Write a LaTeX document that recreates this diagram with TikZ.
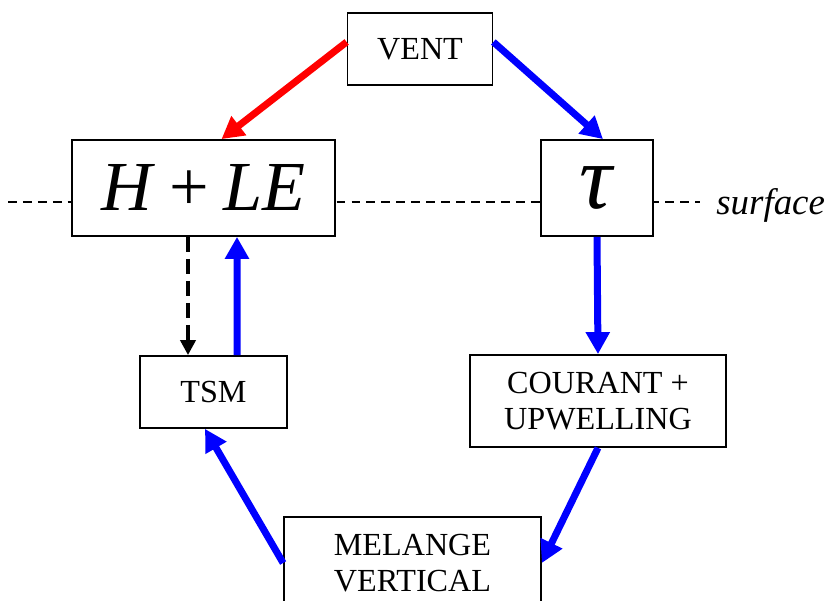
\documentclass[tikz,border=0pt]{standalone}
\usepackage{fontspec}
\setmainfont{Liberation Serif}
\usetikzlibrary{arrows.meta,calc,positioning}

\begin{document}
\begin{tikzpicture}[
    box/.style={draw,line width=1pt,fill=white,inner sep=0,align=center,font=\fontsize{18.3}{20.5}\selectfont},
    flow/.style={line width=0.14cm,-{Triangle[length=0.44cm,width=0.46cm]}},
  ]
  \useasboundingbox (0,0) rectangle (16.56,12.02);
  % surface line
  \draw[dash pattern=on 5pt off 3.5pt,line width=1pt] (0.16,7.98) -- (14.0,7.98);
  \node[anchor=base west,inner sep=0,font=\itshape\fontsize{21}{24}\selectfont] (surf) at (14.32,7.72) {surface};
  % the boxes
  \node[box,minimum width=2.9cm,minimum height=1.44cm] (vent) at (8.40,11.04) {VENT};
  \node[box,minimum width=5.26cm,minimum height=1.92cm,font=\fontsize{40}{44}\selectfont] (hle) at (4.07,8.26) {\textit{H}\hspace{.2em}+\hspace{.2em}\textit{LE}};
  \node[box,minimum width=2.24cm,minimum height=1.92cm,font=\fontsize{52}{56}\selectfont] (tau) at (11.94,8.26) {\textit{τ}};
  \node[box,minimum width=2.94cm,minimum height=1.44cm] (tsm) at (4.27,4.18) {TSM};
  \node[box,minimum width=5.12cm,minimum height=1.84cm] (cour) at (11.96,4.0) {COURANT +\\UPWELLING};
  \node[box,minimum width=5.14cm,minimum height=1.84cm] (mel) at (8.25,0.76) {MELANGE\\VERTICAL};
  % arrows
  \draw[flow,red] ([yshift=0.14cm]vent.west) -- ([xshift=0.36cm]hle.north);
  \draw[flow,blue] ([yshift=0.14cm]vent.east) -- ([xshift=0.12cm]tau.north);
  \draw[flow,blue] (tau.south) -- (cour.north);
  \draw[flow,blue] (cour.south) -- (mel.east);
  \draw[flow,blue] (mel.west) -- ([xshift=-0.17cm]tsm.south);
  \draw[flow,blue] ([xshift=0.47cm]tsm.north) -- ([xshift=0.67cm]hle.south);
  \draw[line width=2.3pt,dash pattern=on 0.3cm off 0.14cm,-{Triangle[length=0.3cm,width=0.3cm]}] ([xshift=-0.31cm]hle.south) -- ([xshift=-0.51cm]tsm.north);
\end{tikzpicture}
\end{document}
